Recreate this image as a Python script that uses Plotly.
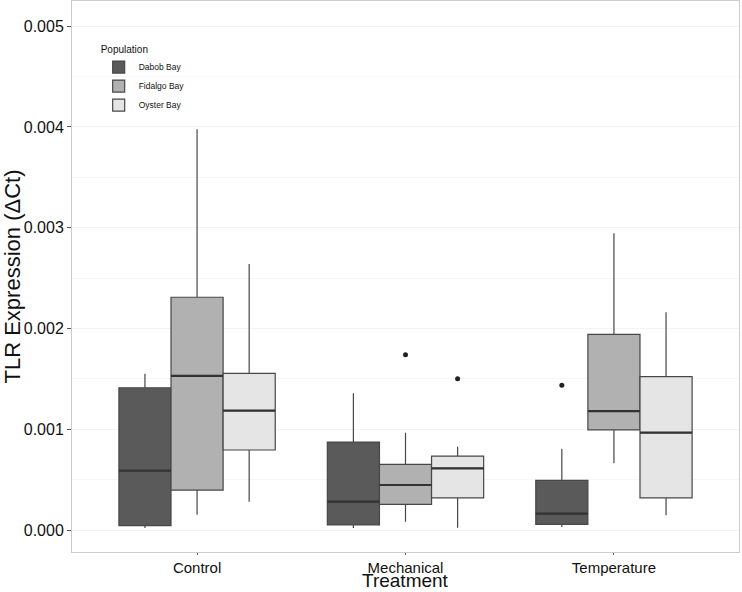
import plotly.graph_objects as go

treatments = ["Control", "Mechanical", "Temperature"]
populations = ["Dabob Bay", "Fidalgo Bay", "Oyster Bay"]
fills = ["#5a5a5a", "#b1b1b1", "#e5e5e5"]

# per population: values for Control, Mechanical, Temperature
lower = {
    "Dabob Bay":   [0.00002, 0.00002, 0.00003],
    "Fidalgo Bay": [0.000152, 0.000083, 0.000662],
    "Oyster Bay":  [0.000281, 0.000023, 0.000146],
}
q1 = {
    "Dabob Bay":   [0.000043, 0.00005, 0.000056],
    "Fidalgo Bay": [0.000397, 0.000255, 0.000993],
    "Oyster Bay":  [0.000794, 0.00032, 0.00032],
}
median = {
    "Dabob Bay":   [0.000589, 0.000281, 0.000162],
    "Fidalgo Bay": [0.001529, 0.000447, 0.001181],
    "Oyster Bay":  [0.001184, 0.000612, 0.000966],
}
q3 = {
    "Dabob Bay":   [0.001412, 0.000873, 0.000493],
    "Fidalgo Bay": [0.00231, 0.000652, 0.001942],
    "Oyster Bay":  [0.001555, 0.000734, 0.001522],
}
upper = {
    "Dabob Bay":   [0.00155, 0.001357, 0.000807],
    "Fidalgo Bay": [0.003977, 0.000966, 0.002945],
    "Oyster Bay":  [0.00264, 0.000827, 0.002161],
}
# outliers: (population, treatment index, value)
outlier_pop = ["Fidalgo Bay", "Oyster Bay", "Dabob Bay"]
outlier_trt = [1, 1, 2]
outlier_val = [0.00174, 0.001502, 0.001436]

offsets = [-0.25, 0.0, 0.25]
width = 0.25

fig = go.Figure()
for i, pop in enumerate(populations):
    xs = [k + 1 + offsets[i] for k in range(len(treatments))]
    fig.add_trace(go.Box(
        x=xs, q1=q1[pop], median=median[pop], q3=q3[pop],
        lowerfence=lower[pop], upperfence=upper[pop],
        name=pop, width=width, fillcolor=fills[i],
        line=dict(color="#474747", width=1.2),
        whiskerwidth=0, boxpoints=False, hoverinfo="y",
    ))

# thicker median lines (ggplot style)
mx, my = [], []
for i, pop in enumerate(populations):
    for k in range(len(treatments)):
        c = k + 1 + offsets[i]
        mx += [c - width / 2, c + width / 2, None]
        my += [median[pop][k], median[pop][k], None]
fig.add_trace(go.Scatter(
    x=mx, y=my, mode="lines", line=dict(color="#333333", width=2.2),
    showlegend=False, hoverinfo="skip",
))

ox = [outlier_trt[j] + 1 + offsets[populations.index(outlier_pop[j])] for j in range(len(outlier_val))]
fig.add_trace(go.Scatter(
    x=ox, y=outlier_val, mode="markers",
    marker=dict(color="#222222", size=5), showlegend=False, hoverinfo="y",
))

fig.update_layout(
    width=742, height=592,
    margin=dict(l=72, r=3, t=1, b=40),
    paper_bgcolor="white", plot_bgcolor="white",
    font=dict(family="Liberation Sans, Arial, sans-serif", color="#111111"),
    boxmode="overlay",
    showlegend=True,
    legend=dict(
        x=0.04, y=0.93, xanchor="left", yanchor="top",
        title=dict(text="Population", font=dict(size=10)),
        font=dict(size=8.5), bgcolor="rgba(255,255,255,0)",
        itemwidth=30, tracegroupgap=0,
    ),
    xaxis=dict(
        range=[0.4, 3.6], tickmode="array", tickvals=[1, 2, 3], ticktext=treatments,
        showgrid=False, zeroline=False, automargin=False,
        showline=True, mirror=True, linecolor="#cccccc", linewidth=1,
        ticks="outside", ticklen=2, tickcolor="#555555",
        tickfont=dict(size=15, color="#111111"),
    ),
    yaxis=dict(
        range=[-0.000218, 0.00525], tickmode="array",
        tickvals=[0, 0.001, 0.002, 0.003, 0.004, 0.005],
        ticktext=["0.000", "0.001", "0.002", "0.003", "0.004", "0.005"],
        showgrid=True, gridcolor="#f3f3f3", gridwidth=1,
        minor=dict(dtick=0.0005, showgrid=True, gridcolor="#f6f6f6"),
        zeroline=False, automargin=False,
        showline=True, mirror=True, linecolor="#cccccc", linewidth=1,
        ticks="outside", ticklen=4, tickcolor="#555555",
        tickfont=dict(size=16, color="#111111"),
        title=dict(text="TLR Expression (ΔCt)", font=dict(size=22), standoff=4),
    ),
    annotations=[dict(
        text="Treatment", xref="paper", yref="paper", x=0.5, y=-0.0525,
        xanchor="center", yanchor="middle", showarrow=False, borderpad=0,
        font=dict(size=19, color="#111111"),
    )],
)

fig.write_html(
    "out.html",
    config={"displayModeBar": False},
    post_script="document.body.style.margin='0px'; document.body.style.overflow='hidden';",
)
